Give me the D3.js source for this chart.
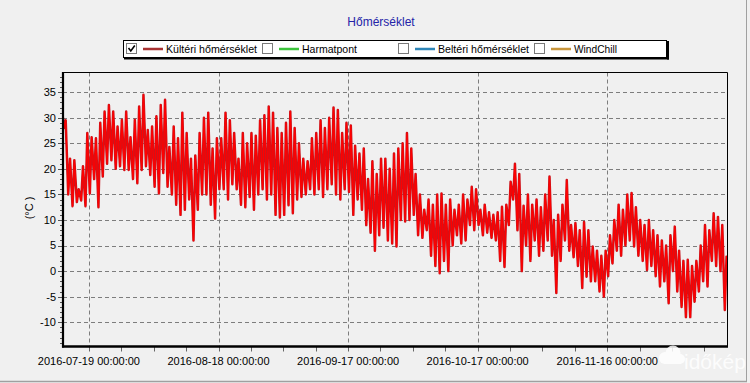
<!DOCTYPE html>
<html>
<head>
<meta charset="utf-8">
<script src="https://cdn.jsdelivr.net/npm/d3@7"></script>
<style>
  body { margin: 0; background: #f0f0f0; }
  text { font-family: "Liberation Sans", Arial, sans-serif; }
</style>
</head>
<body>
<script>
// data: daily min (early morning) and max (afternoon)
var startDay = "2016-07-13";
var endTime = "2016-12-13 20:00";
var startValue = 30;
var dayMax = [
  29.5, 22, 21.7, 16, 20.5, 27, 26.2, 26, 29, 31.2,
  32.5, 31.2, 28.3, 29.6, 31.2, 26.2, 29.6, 32.2, 34.5, 27.6,
  28.3, 30.3, 32.5, 33.5, 24.3, 28.3, 26, 31, 27, 22,
  22.6, 27, 30, 31, 24, 26, 26, 31, 29.5, 27,
  22, 27, 25, 27, 26.5, 29.5, 30.5, 32.2, 31, 28,
  27, 29, 31.2, 28, 25, 22, 21.5, 26, 27, 29.5,
  28, 30, 32, 31.5, 27, 29, 28.5, 24.5, 23, 24,
  18, 21.5, 19, 22, 22, 20, 23, 24, 25, 27,
  24, 19, 15, 12, 14, 13, 15, 15.2, 13, 14,
  12, 13, 15, 14, 16.5, 16, 12, 13, 11.5, 11,
  11.5, 12.6, 13, 17.5, 21, 19, 12.8, 15, 13, 14,
  12.5, 15, 18.5, 10, 11, 13, 17.8, 9, 9.4, 8,
  9.6, 8, 4.8, 4, 3, 4, 7, 10, 13, 12,
  15, 15.3, 12.5, 10, 9, 10, 8, 7, 6, 5,
  7, 8.7, 4, 2, 2.2, 1, 2, 5, 9, 8,
  11.3, 10.6, 9, 3
];
var dayMin = [
  28, 15, 12.7, 13.5, 13.8, 12.7, 15.2, 18, 12.5, 18.5,
  21, 21.7, 20, 20.5, 19.8, 19.8, 18, 17.2, 19.8, 20.5,
  18.8, 16.5, 15.2, 19.2, 16.5, 15, 13, 11, 12, 14,
  6, 12, 15, 15, 13, 10.3, 16, 16, 14, 17,
  16, 13, 12.5, 14.5, 12, 15, 16, 14, 15, 11,
  10.5, 11, 12.9, 11.3, 14, 14.5, 15, 16, 15, 16,
  14.5, 16, 17, 15, 14, 16, 15.5, 11, 14, 12,
  9, 7.5, 4, 7, 8.5, 6, 5.4, 4.8, 10, 9.7,
  10, 11, 7, 6.5, 8, 3, 1, -0.4, 2, 0,
  5, 7, 5.4, 6, 9, 8, 9, 7, 7.5, 6.5,
  6, 2, 0.8, 9, 14, 8, 0, 5, 2, 6,
  3, 4, 6, 3, -4.3, 2, 6, 4, 2.7, 1,
  -3.3, -1.1, -2, -2, -4, -5, -1, 1.5, 4, 3,
  5, 6, 4.8, 3, 2, 0.2, 1, -1, -3, -2,
  -6.3, 0, -4, -7, -9, -9, -6, -4, -2, -3,
  2, 1, 0, -7.6
];
var seriesNames = ["Kültéri hőmérséklet", "Harmatpont", "Beltéri hőmérséklet", "WindChill"];
var seriesColors = ["#a83232", "#3cc43c", "#2e86b8", "#c8963c"];
var seriesChecked = [true, false, false, false];
var yTicks = [-10, -5, 0, 5, 10, 15, 20, 25, 30, 35];
var xTickFirst = "2016-07-19";
var chartTitle = "Hőmérséklet";
var yTitle = "(°C )";

var width = 750, height = 383;
var plot = {left: 63, right: 727.5, top: 72.5, bottom: 346.5};
var legendTextWidth = [91, 55, 91, 43];

var parseDay = d3.utcParse("%Y-%m-%d");
var parseTime = d3.utcParse("%Y-%m-%d %H:%M");
var t0 = parseDay(startDay);
var HOUR = 3600 * 1000, DAY = 24 * HOUR;

// build the series: min at 05:00, max at 15:00 each day
var points = [{t: t0, v: startValue}];
dayMax.forEach(function(mx, i){
  points.push({t: new Date(+t0 + i * DAY + 5 * HOUR), v: dayMin[i]});
  points.push({t: new Date(+t0 + i * DAY + 15 * HOUR), v: mx});
});

var x = d3.scaleUtc()
  .domain([t0, parseTime(endTime)])
  .range([plot.left, plot.right]);
var y = d3.scaleLinear()
  .domain([-14.75, 38.85])
  .range([plot.bottom, plot.top]);

var svg = d3.select("body").append("svg")
  .attr("width", width)
  .attr("height", height)
  .style("display", "block")
  .style("background", "#f0f0f0");

// outer frame (right / bottom)
svg.append("line").attr("x1", 746.5).attr("x2", 746.5).attr("y1", 0).attr("y2", 382)
  .attr("stroke", "#a0a0a0").attr("stroke-width", 1);
svg.append("line").attr("x1", 0).attr("x2", 747).attr("y1", 381.5).attr("y2", 381.5)
  .attr("stroke", "#a0a0a0").attr("stroke-width", 1.5);

// title
svg.append("text")
  .attr("x", 381).attr("y", 26)
  .attr("text-anchor", "middle")
  .attr("font-size", 12)
  .attr("fill", "#2424a8")
  .text(chartTitle);

// legend
var lg = svg.append("g").attr("class", "legend");
lg.append("rect")
  .attr("x", 123.5).attr("y", 40.5).attr("width", 543).attr("height", 17)
  .attr("fill", "#ffffff").attr("stroke", "#000").attr("stroke-width", 1);
lg.append("line").attr("x1", 668).attr("x2", 668).attr("y1", 41).attr("y2", 59.5)
  .attr("stroke", "#000").attr("stroke-width", 2);
lg.append("line").attr("x1", 124).attr("x2", 669).attr("y1", 58.5).attr("y2", 58.5)
  .attr("stroke", "#000").attr("stroke-width", 2);

var items = lg.selectAll(".item")
  .data(seriesNames)
  .enter().append("g")
  .attr("class", "item")
  .attr("transform", function(d, i){ return "translate(" + (126 + i * 136) + ",0)"; });

items.append("rect")
  .attr("x", 0.5).attr("y", 43.5).attr("width", 10).attr("height", 10)
  .attr("fill", "#fff").attr("stroke", "#7a7a7a");
items.filter(function(d, i){ return seriesChecked[i]; })
  .append("path")
  .attr("d", "M2.5,48 L4.8,51 L8.8,45.5")
  .attr("fill", "none").attr("stroke", "#000").attr("stroke-width", 1.6);
items.append("line")
  .attr("x1", 17).attr("x2", 37).attr("y1", 49).attr("y2", 49)
  .attr("stroke", function(d, i){ return seriesColors[i]; })
  .attr("stroke-width", 2.5);
items.append("text")
  .attr("x", 40).attr("y", 53)
  .attr("font-size", 11)
  .attr("textLength", function(d, i){ return legendTextWidth[i]; })
  .attr("lengthAdjust", "spacingAndGlyphs")
  .attr("fill", "#000")
  .text(function(d){ return d; });

// grid
var xTicks = [];
for (var k = 0; ; k++){
  var tk = new Date(+parseDay(xTickFirst) + k * 7.5 * DAY);
  if (tk > x.domain()[1]) break;
  xTicks.push({t: tk, major: k % 4 === 0});
}

var grid = svg.append("g").attr("class", "grid");
grid.selectAll(".hg").data(yTicks).enter().append("line")
  .attr("x1", plot.left).attr("x2", plot.right)
  .attr("y1", function(d){ return Math.round(y(d)) + 0.5; })
  .attr("y2", function(d){ return Math.round(y(d)) + 0.5; })
  .attr("stroke", "#7d7d7d").attr("stroke-dasharray", "4,3");
grid.selectAll(".vg").data(xTicks.filter(function(d){ return d.major; })).enter().append("line")
  .attr("x1", function(d){ return Math.round(x(d.t)) + 0.5; })
  .attr("x2", function(d){ return Math.round(x(d.t)) + 0.5; })
  .attr("y1", plot.top).attr("y2", plot.bottom)
  .attr("stroke", "#7d7d7d").attr("stroke-dasharray", "4,3");

// series line
svg.append("clipPath").attr("id", "clip")
  .append("rect").attr("x", plot.left).attr("y", plot.top)
  .attr("width", plot.right - plot.left).attr("height", plot.bottom - plot.top);

var line = d3.line()
  .x(function(d){ return x(d.t); })
  .y(function(d){ return y(d.v); });

var lines = svg.append("g").attr("clip-path", "url(#clip)");
lines.append("path").datum(points)
  .attr("d", line).attr("fill", "none")
  .attr("stroke", "#c8161e").attr("stroke-width", 2.5).attr("stroke-linejoin", "round");
lines.append("path").datum(points)
  .attr("d", line).attr("fill", "none")
  .attr("stroke", "#ff0000").attr("stroke-width", 1.2).attr("stroke-linejoin", "round");

// frame of plot area
svg.append("line").attr("x1", plot.left).attr("x2", plot.right).attr("y1", plot.top).attr("y2", plot.top)
  .attr("stroke", "#000").attr("stroke-width", 1);
svg.append("line").attr("x1", plot.right).attr("x2", plot.right).attr("y1", plot.top).attr("y2", plot.bottom)
  .attr("stroke", "#000").attr("stroke-width", 1);

// y axis: minor ticks each degree, labels every 5
var yAxis = svg.append("g").attr("class", "y-axis");
yAxis.selectAll(".mt").data(d3.range(-14, 39, 1)).enter().append("line")
  .attr("x1", function(d){ return d % 5 === 0 ? plot.left - 5 : plot.left - 3; })
  .attr("x2", plot.left)
  .attr("y1", function(d){ return Math.round(y(d)) + 0.5; })
  .attr("y2", function(d){ return Math.round(y(d)) + 0.5; })
  .attr("stroke", "#555").attr("stroke-width", 1);
yAxis.selectAll("text").data(yTicks).enter().append("text")
  .attr("x", 56)
  .attr("y", function(d){ return y(d); })
  .attr("dy", "0.36em")
  .attr("text-anchor", "end")
  .attr("font-size", 11)
  .attr("fill", "#000")
  .text(function(d){ return d; });
svg.append("line").attr("x1", plot.left).attr("x2", plot.left).attr("y1", plot.top - 0.5).attr("y2", plot.bottom + 1)
  .attr("stroke", "#000").attr("stroke-width", 2.2);

svg.append("text")
  .attr("transform", "translate(33,208) rotate(-90)")
  .attr("text-anchor", "middle")
  .attr("font-size", 11)
  .attr("fill", "#000")
  .text(yTitle);

// x axis
var fmt = d3.utcFormat("%Y-%m-%d %H:%M:%S");
var xAxis = svg.append("g").attr("class", "x-axis");
xAxis.selectAll("line").data(xTicks).enter().append("line")
  .attr("x1", function(d){ return Math.round(x(d.t)) + 0.5; })
  .attr("x2", function(d){ return Math.round(x(d.t)) + 0.5; })
  .attr("y1", plot.bottom).attr("y2", plot.bottom + 5)
  .attr("stroke", "#666");
xAxis.selectAll("text").data(xTicks.filter(function(d){ return d.major; })).enter().append("text")
  .attr("x", function(d){ return x(d.t); })
  .attr("y", 365)
  .attr("text-anchor", "middle")
  .attr("font-size", 11)
  .attr("fill", "#000")
  .text(function(d){ return fmt(d.t); });
svg.append("line").attr("x1", plot.left - 1).attr("x2", plot.right + 0.5).attr("y1", plot.bottom).attr("y2", plot.bottom)
  .attr("stroke", "#000").attr("stroke-width", 2.4);

// watermark
var wm = svg.append("g").attr("opacity", 0.85);
wm.append("circle").attr("cx", 665).attr("cy", 358).attr("r", 6).attr("fill", "#fff");
wm.append("circle").attr("cx", 673).attr("cy", 353).attr("r", 7.5).attr("fill", "#fff");
wm.append("circle").attr("cx", 680).attr("cy", 359).attr("r", 5).attr("fill", "#fff");
wm.append("rect").attr("x", 664).attr("y", 358).attr("width", 17).attr("height", 6).attr("fill", "#fff");
wm.append("text")
  .attr("x", 684).attr("y", 369)
  .attr("font-size", 21)
  .attr("font-family", "Lato, 'Open Sans', sans-serif")
  .attr("font-weight", 300)
  .attr("fill", "#fff")
  .text("időkép");
</script>
</body>
</html>
